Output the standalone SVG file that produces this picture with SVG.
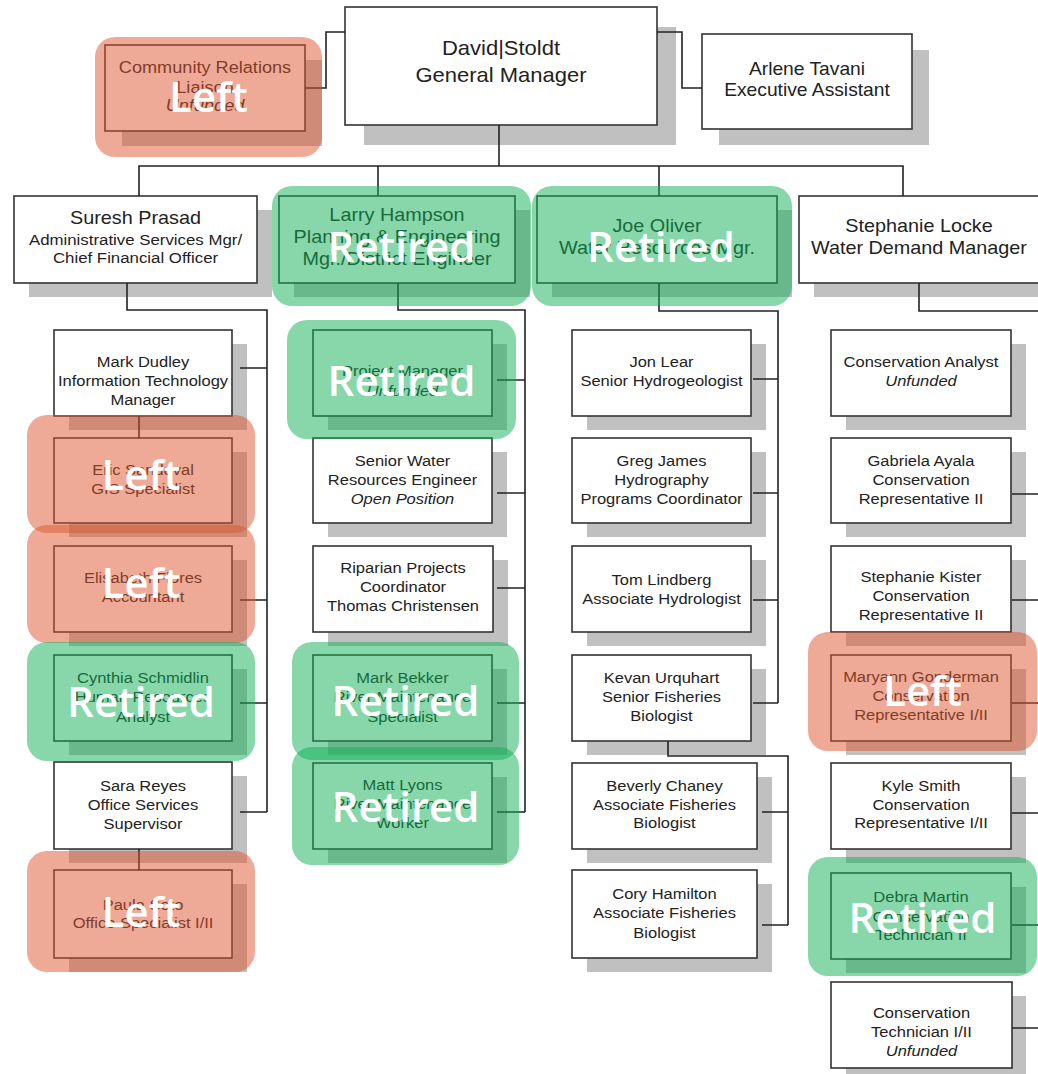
<svg xmlns="http://www.w3.org/2000/svg" width="1038" height="1074" viewBox="0 0 1038 1074">
<style>
.sh{fill:#c0c0c0}
.bx{fill:#fff;stroke:#333;stroke-width:1.6}
.t{font-family:"Liberation Sans",Arial,sans-serif;font-size:15px;fill:#222;text-anchor:middle}
.b{font-size:18px}
.g{font-size:20px}
.c{font-size:16.5px}
.s{font-size:15.3px}
.i{font-style:italic}
.cn{fill:none;stroke:#222;stroke-width:1.6}
.lf{fill:rgb(222,86,46);fill-opacity:.5}
.rt{fill:rgb(16,175,85);fill-opacity:.5}
.lb{font-family:"Open Sans","Noto Sans",sans-serif;font-size:42px;font-weight:600;fill:#fff;text-anchor:middle}
</style>
<rect width="1038" height="1074" fill="#fff"/>

<!-- Top level -->
<g id="gm"><rect class="sh" x="364" y="27" width="312" height="118"/><rect class="bx" x="345" y="7" width="312" height="118"/>
<text class="t g" transform="matrix(1.1 0 0 1 501 0)"><tspan x="0" y="55">David|Stoldt</tspan><tspan x="0" y="82">General Manager</tspan></text></g>
<g id="community"><rect class="sh" x="122" y="60" width="200" height="86"/><rect class="bx" x="105" y="45" width="200" height="86"/>
<text class="t c" transform="matrix(1.1 0 0 1 205 0)"><tspan x="0" y="73">Community Relations</tspan><tspan x="0" y="93">Liaison</tspan><tspan x="0" y="111" class="i">Unfunded</tspan></text></g>
<g id="arlene"><rect class="sh" x="719" y="50" width="210" height="95"/><rect class="bx" x="702" y="34" width="210" height="95"/>
<text class="t" style="font-size:17.5px" transform="matrix(1.1 0 0 1 807 0)"><tspan x="0" y="75.5">Arlene Tavani</tspan><tspan x="0" y="96.5">Executive Assistant</tspan></text></g>

<g id="suresh"><rect class="sh" x="29" y="210" width="243" height="87"/><rect class="bx" x="14" y="196" width="243" height="87"/>
<text class="t" transform="matrix(1.1 0 0 1 135.5 0)"><tspan x="0" y="224.5" class="b">Suresh Prasad</tspan><tspan x="0" y="245.5" class="s">Administrative Services Mgr/</tspan><tspan x="0" y="263.5" class="s">Chief Financial Officer</tspan></text></g>
<g id="larry"><rect class="sh" x="294" y="210" width="236" height="87"/><rect class="bx" x="279" y="196" width="236" height="87"/>
<text class="t b" transform="matrix(1.1 0 0 1 397 0)"><tspan x="0" y="221">Larry Hampson</tspan><tspan x="0" y="243">Planning &amp; Engineering</tspan><tspan x="0" y="265">Mgr./District Engineer</tspan></text></g>
<g id="joe"><rect class="sh" x="552" y="210" width="240" height="87"/><rect class="bx" x="537" y="196" width="240" height="87"/>
<text class="t b" transform="matrix(1.1 0 0 1 657 0)"><tspan x="0" y="232">Joe Oliver</tspan><tspan x="0" y="254">Water Resources Mgr.</tspan></text></g>
<g id="stephanie-locke"><rect class="sh" x="814" y="210" width="243" height="87"/><rect class="bx" x="799" y="196" width="243" height="87"/>
<text class="t b" transform="matrix(1.1 0 0 1 919 0)"><tspan x="0" y="232.5">Stephanie Locke</tspan><tspan x="0" y="254.5">Water Demand Manager</tspan></text></g>

<!-- Left column -->
<g id="mark-dudley"><rect class="sh" x="69" y="344" width="178" height="86"/><rect class="bx" x="54" y="330" width="178" height="86"/>
<text class="t" transform="matrix(1.1 0 0 1 143 0)"><tspan x="0" y="367.4">Mark Dudley</tspan><tspan x="0" y="386.4">Information Technology</tspan><tspan x="0" y="405.4">Manager</tspan></text></g>
<g id="eric"><rect class="sh" x="69" y="452" width="178" height="85"/><rect class="bx" x="54" y="438" width="178" height="85"/>
<text class="t" transform="matrix(1.1 0 0 1 143 0)"><tspan x="0" y="475.4">Eric Sandoval</tspan><tspan x="0" y="494.4">GIS Specialist</tspan></text></g>
<g id="elisabeth"><rect class="sh" x="69" y="560" width="178" height="86"/><rect class="bx" x="54" y="546" width="178" height="86"/>
<text class="t" transform="matrix(1.1 0 0 1 143 0)"><tspan x="0" y="583.4">Elisabeth Flores</tspan><tspan x="0" y="602.4">Accountant</tspan></text></g>
<g id="cynthia"><rect class="sh" x="69" y="669" width="178" height="86"/><rect class="bx" x="54" y="655" width="178" height="86"/>
<text class="t" transform="matrix(1.1 0 0 1 143 0)"><tspan x="0" y="683.4">Cynthia Schmidlin</tspan><tspan x="0" y="702.4">Human Resources</tspan><tspan x="0" y="722.4">Analyst</tspan></text></g>
<g id="sara"><rect class="sh" x="69" y="776" width="178" height="87"/><rect class="bx" x="54" y="762" width="178" height="87"/>
<text class="t" transform="matrix(1.1 0 0 1 143 0)"><tspan x="0" y="791.4">Sara Reyes</tspan><tspan x="0" y="810.4">Office Services</tspan><tspan x="0" y="829.4">Supervisor</tspan></text></g>
<g id="paula"><rect class="sh" x="69" y="884" width="178" height="88"/><rect class="bx" x="54" y="870" width="178" height="88"/>
<text class="t" transform="matrix(1.1 0 0 1 143 0)"><tspan x="0" y="910.4">Paula Soto</tspan><tspan x="0" y="928.4">Office Specialist I/II</tspan></text></g>

<!-- Middle column -->
<g id="project-manager"><rect class="sh" x="328" y="344" width="179" height="86"/><rect class="bx" x="313" y="330" width="179" height="86"/>
<text class="t" transform="matrix(1.1 0 0 1 402.5 0)"><tspan x="0" y="376.4">Project Manager</tspan><tspan x="0" y="396.4" class="i">Unfunded</tspan></text></g>
<g id="senior-water"><rect class="sh" x="328" y="452" width="179" height="85"/><rect class="bx" x="313" y="438" width="179" height="85"/>
<text class="t" transform="matrix(1.1 0 0 1 402.5 0)"><tspan x="0" y="466.4">Senior Water</tspan><tspan x="0" y="485.4">Resources Engineer</tspan><tspan x="0" y="504.4" class="i">Open Position</tspan></text></g>
<g id="riparian"><rect class="sh" x="328" y="560" width="180" height="86"/><rect class="bx" x="313" y="546" width="180" height="86"/>
<text class="t" transform="matrix(1.1 0 0 1 403 0)"><tspan x="0" y="573.4">Riparian Projects</tspan><tspan x="0" y="592.4">Coordinator</tspan><tspan x="0" y="611.4">Thomas Christensen</tspan></text></g>
<g id="mark-bekker"><rect class="sh" x="328" y="669" width="179" height="86"/><rect class="bx" x="313" y="655" width="179" height="86"/>
<text class="t" transform="matrix(1.1 0 0 1 402.5 0)"><tspan x="0" y="683.4">Mark Bekker</tspan><tspan x="0" y="702.4">River Maintenance</tspan><tspan x="0" y="722.4">Specialist</tspan></text></g>
<g id="matt-lyons"><rect class="sh" x="328" y="777" width="179" height="86"/><rect class="bx" x="313" y="763" width="179" height="86"/>
<text class="t" transform="matrix(1.1 0 0 1 402.5 0)"><tspan x="0" y="790.4">Matt Lyons</tspan><tspan x="0" y="809.4">River Maintenance</tspan><tspan x="0" y="828.4">Worker</tspan></text></g>

<!-- Right-middle column -->
<g id="jon-lear"><rect class="sh" x="587" y="344" width="179" height="86"/><rect class="bx" x="572" y="330" width="179" height="86"/>
<text class="t" transform="matrix(1.1 0 0 1 661.5 0)"><tspan x="0" y="367.4">Jon Lear</tspan><tspan x="0" y="386.4">Senior Hydrogeologist</tspan></text></g>
<g id="greg-james"><rect class="sh" x="587" y="452" width="179" height="85"/><rect class="bx" x="572" y="438" width="179" height="85"/>
<text class="t" transform="matrix(1.1 0 0 1 661.5 0)"><tspan x="0" y="466.4">Greg James</tspan><tspan x="0" y="485.4">Hydrography</tspan><tspan x="0" y="504.4">Programs Coordinator</tspan></text></g>
<g id="tom-lindberg"><rect class="sh" x="587" y="560" width="179" height="86"/><rect class="bx" x="572" y="546" width="179" height="86"/>
<text class="t" transform="matrix(1.1 0 0 1 661.5 0)"><tspan x="0" y="585.4">Tom Lindberg</tspan><tspan x="0" y="604.4">Associate Hydrologist</tspan></text></g>
<g id="kevan"><rect class="sh" x="587" y="669" width="179" height="86"/><rect class="bx" x="572" y="655" width="179" height="86"/>
<text class="t" transform="matrix(1.1 0 0 1 661.5 0)"><tspan x="0" y="683.4">Kevan Urquhart</tspan><tspan x="0" y="702.4">Senior Fisheries</tspan><tspan x="0" y="721.4">Biologist</tspan></text></g>
<g id="beverly"><rect class="sh" x="587" y="777" width="185" height="86"/><rect class="bx" x="572" y="763" width="185" height="86"/>
<text class="t" transform="matrix(1.1 0 0 1 664.5 0)"><tspan x="0" y="791.4">Beverly Chaney</tspan><tspan x="0" y="810.4">Associate Fisheries</tspan><tspan x="0" y="828.4">Biologist</tspan></text></g>
<g id="cory"><rect class="sh" x="587" y="884" width="185" height="88"/><rect class="bx" x="572" y="870" width="185" height="88"/>
<text class="t" transform="matrix(1.1 0 0 1 664.5 0)"><tspan x="0" y="899.4">Cory Hamilton</tspan><tspan x="0" y="918.4">Associate Fisheries</tspan><tspan x="0" y="938.4">Biologist</tspan></text></g>

<!-- Right column -->
<g id="conservation-analyst"><rect class="sh" x="846" y="344" width="180" height="86"/><rect class="bx" x="831" y="330" width="180" height="86"/>
<text class="t" transform="matrix(1.1 0 0 1 921 0)"><tspan x="0" y="367.4">Conservation Analyst</tspan><tspan x="0" y="386.4" class="i">Unfunded</tspan></text></g>
<g id="gabriela"><rect class="sh" x="846" y="452" width="180" height="85"/><rect class="bx" x="831" y="438" width="180" height="85"/>
<text class="t" transform="matrix(1.1 0 0 1 921 0)"><tspan x="0" y="466.4">Gabriela Ayala</tspan><tspan x="0" y="485.4">Conservation</tspan><tspan x="0" y="504.4">Representative II</tspan></text></g>
<g id="stephanie-kister"><rect class="sh" x="846" y="560" width="180" height="86"/><rect class="bx" x="831" y="546" width="180" height="86"/>
<text class="t" transform="matrix(1.1 0 0 1 921 0)"><tspan x="0" y="582.4">Stephanie Kister</tspan><tspan x="0" y="601.4">Conservation</tspan><tspan x="0" y="620.4">Representative II</tspan></text></g>
<g id="maryann"><rect class="sh" x="846" y="669" width="180" height="86"/><rect class="bx" x="831" y="655" width="180" height="86"/>
<text class="t" transform="matrix(1.1 0 0 1 921 0)"><tspan x="0" y="682.4">Maryann Gonderman</tspan><tspan x="0" y="701.4">Conservation</tspan><tspan x="0" y="720.4">Representative I/II</tspan></text></g>
<g id="kyle-smith"><rect class="sh" x="846" y="777" width="180" height="86"/><rect class="bx" x="831" y="763" width="180" height="86"/>
<text class="t" transform="matrix(1.1 0 0 1 921 0)"><tspan x="0" y="791.4">Kyle Smith</tspan><tspan x="0" y="810.4">Conservation</tspan><tspan x="0" y="828.4">Representative I/II</tspan></text></g>
<g id="debra-martin"><rect class="sh" x="846" y="887" width="180" height="86"/><rect class="bx" x="831" y="873" width="180" height="86"/>
<text class="t" transform="matrix(1.1 0 0 1 921 0)"><tspan x="0" y="902.4">Debra Martin</tspan><tspan x="0" y="922.4">Conservation</tspan><tspan x="0" y="940.4">Technician II</tspan></text></g>
<g id="conservation-technician"><rect class="sh" x="846" y="996" width="180" height="86"/><rect class="bx" x="831" y="982" width="181" height="86"/>
<text class="t" transform="matrix(1.1 0 0 1 921.5 0)"><tspan x="0" y="1018.4">Conservation</tspan><tspan x="0" y="1037.4">Technician I/II</tspan><tspan x="0" y="1056.4" class="i">Unfunded</tspan></text></g>

<!-- Connectors -->
<g id="connectors" class="cn">
<path d="M345,32 H326 V88 H305"/>
<path d="M657,32 H682 V88 H702"/>
<path d="M499,125 V166"/>
<path d="M139,196 V166 H903 V196"/>
<path d="M378,166 V196"/>
<path d="M659,166 V196"/>
<path d="M127,283 V310 H267 V812"/>
<path d="M240,368 H267 M240,600 H267 M240,703 H267 M240,812 H267"/>
<path d="M139,416 V438 M139,849 V870"/>
<path d="M398,283 V310 H525 V812"/>
<path d="M497,380 H525 M497,493 H525 M497,588 H525 M497,703 H525 M497,812 H525"/>
<path d="M659,283 V311 H778 V703"/>
<path d="M753,379 H778 M753,493 H778 M753,600 H778 M753,703 H778"/>
<path d="M668,741 V756 H788 V925"/>
<path d="M762,812 H788 M762,925 H788"/>
<path d="M919,283 V311 H1040"/>
<path d="M1012,494 H1040 M1012,600 H1040 M1012,703 H1040 M1012,813 H1040 M1012,925 H1040 M1012,1028 H1040"/>
</g>

<!-- Status overlays -->
<g id="overlay-community"><rect class="lf" x="95" y="37" width="227" height="120" rx="20"/><text class="lb" x="208.5" y="112">Left</text></g>
<g id="overlay-eric"><rect class="lf" x="27" y="415" width="228" height="118" rx="20"/><text class="lb" x="141" y="490">Left</text></g>
<g id="overlay-elisabeth"><rect class="lf" x="27" y="525" width="228" height="118" rx="20"/><text class="lb" x="141" y="598">Left</text></g>
<g id="overlay-paula"><rect class="lf" x="27" y="851" width="228" height="121" rx="20"/><text class="lb" x="141" y="927">Left</text></g>
<g id="overlay-maryann"><rect class="lf" x="808" y="632" width="229" height="119" rx="20"/><text class="lb" x="922.5" y="706">Left</text></g>
<g id="overlay-larry"><rect class="rt" x="272" y="186" width="259" height="120" rx="20"/><text class="lb" x="401.5" y="262">Retired</text></g>
<g id="overlay-joe"><rect class="rt" x="532" y="186" width="260" height="120" rx="20"/><text class="lb" x="661" y="262">Retired</text></g>
<g id="overlay-pm"><rect class="rt" x="287" y="320" width="229" height="119" rx="20"/><text class="lb" x="401.5" y="396">Retired</text></g>
<g id="overlay-cynthia"><rect class="rt" x="27" y="642" width="228" height="119" rx="20"/><text class="lb" x="141" y="717">Retired</text></g>
<g id="overlay-bekker"><rect class="rt" x="292" y="642" width="227" height="118" rx="20"/><text class="lb" x="405.5" y="716">Retired</text></g>
<g id="overlay-lyons"><rect class="rt" x="292" y="747" width="227" height="118" rx="20"/><text class="lb" x="405.5" y="822">Retired</text></g>
<g id="overlay-debra"><rect class="rt" x="808" y="857" width="229" height="119" rx="20"/><text class="lb" x="922.5" y="933">Retired</text></g>
</svg>
